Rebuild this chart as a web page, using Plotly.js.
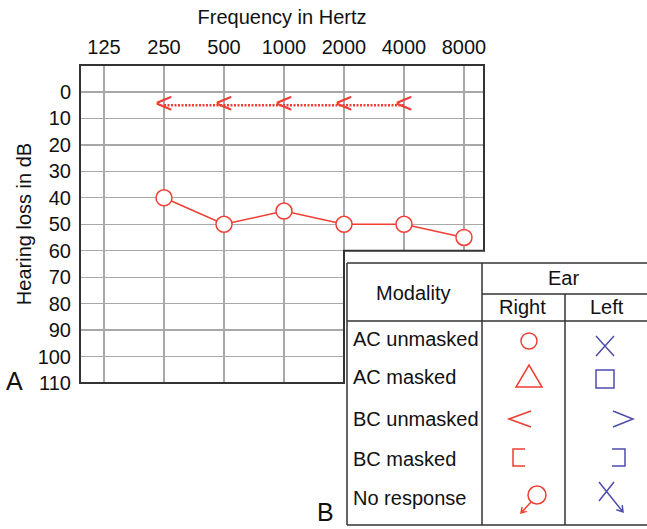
<!DOCTYPE html>
<html><head><meta charset="utf-8">
<script src="https://cdn.plot.ly/plotly-3.0.1.min.js"></script>
<style>html,body{margin:0;padding:0;background:#fff}</style>
</head><body><div id="chart" style="width:647px;height:529px"></div>
<script>
// ---- data ----
const frequencies = [125, 250, 500, 1000, 2000, 4000, 8000];
const freqLabels = ['125', '250', '500', '1000', '2000', '4000', '8000'];
const dbTicks = [0, 10, 20, 30, 40, 50, 60, 70, 80, 90, 100, 110];
const acRightFreq = [250, 500, 1000, 2000, 4000, 8000];
const acRightDb = [40, 50, 45, 50, 50, 55];
const bcRightFreq = [250, 500, 1000, 2000, 4000];
const bcRightDb = [5, 5, 5, 5, 5];
const modalities = ['AC unmasked', 'AC masked', 'BC unmasked', 'BC masked', 'No response'];
const earLabels = ['Right', 'Left'];

// ---- styles / layout constants ----
const RED = '#ef3e33', BLUE = '#4d4dab', DARK = '#333333', GRID = '#a8a8a8';
const FONT = 'Liberation Sans, Arial, sans-serif';
const X_MIN = -0.4, X_MAX = 6.3333, Y_TOP = -10.2, Y_BOT = 110;
const L = 80, R = 484, T = 65, B = 383;
const X = px => (px - L) / (R - L);
const Y = py => (B - py) / (B - T);
const idx = f => frequencies.indexOf(f);

function pth(cmds) {
  return cmds.map(c => c[0] + X(c[1]).toFixed(5) + ',' + Y(c[2]).toFixed(5)).join(' ');
}
function head(tx, ty, fx, fy, len, ang) {
  len = len || 7; ang = (ang || 32) * Math.PI / 180;
  const dx = fx - tx, dy = fy - ty, d = Math.hypot(dx, dy);
  const ux = dx / d, uy = dy / d;
  const r = a => [tx + len * (ux * Math.cos(a) - uy * Math.sin(a)), ty + len * (ux * Math.sin(a) + uy * Math.cos(a))];
  const e1 = r(ang), e2 = r(-ang);
  return [['M', e1[0], e1[1]], ['L', tx, ty], ['L', e2[0], e2[1]]];
}
function lineShape(path, color, w) {
  return {type: 'path', xref: 'paper', yref: 'paper', path: path, layer: 'above',
          line: {color: color, width: w}, fillcolor: 'rgba(0,0,0,0)'};
}

// ---- traces ----
const traces = [
  {
    x: bcRightFreq.map(idx), y: bcRightDb, mode: 'lines+text',
    text: bcRightFreq.map(() => '<'), textposition: 'middle center',
    textfont: {family: FONT, size: 30, color: RED},
    line: {color: RED, width: 2.5, dash: '2px,1.5px'},
    cliponaxis: false, hoverinfo: 'skip'
  },
  {
    x: acRightFreq.map(idx), y: acRightDb, mode: 'lines+markers',
    line: {color: RED, width: 1.5},
    marker: {symbol: 'circle', size: 16, color: '#ffffff', line: {color: RED, width: 1.5}},
    cliponaxis: false, hoverinfo: 'skip'
  }
];

// ---- frame with notch ----
const xn = (idx(2000) - X_MIN) / (X_MAX - X_MIN);
const yn = (Y_BOT - 60) / (Y_BOT - Y_TOP);
const shapes = [
  {type: 'rect', xref: 'paper', yref: 'paper', x0: xn, x1: 1.02, y0: -0.02, y1: yn,
   fillcolor: '#ffffff', line: {width: 0}, layer: 'above'},
  {type: 'path', xref: 'paper', yref: 'paper', layer: 'above',
   path: `M0,1 L1,1 L1,${yn} L${xn},${yn} L${xn},0 L0,0 Z`,
   line: {color: DARK, width: 2}, fillcolor: 'rgba(0,0,0,0)'}
];

// ---- legend table ----
const tl = 347, tt = 263, tb = 525, tr = 650, c1 = 482, c2 = 565, h1 = 294, h2 = 321;
[
  [['M', tl, tt], ['L', tr, tt]],
  [['M', tl, tt], ['L', tl, tb]],
  [['M', tl, tb], ['L', tr, tb]],
  [['M', c1, tt], ['L', c1, tb]],
  [['M', c2, h1], ['L', c2, tb]],
  [['M', c1, h1], ['L', tr, h1]],
  [['M', tl, h2], ['L', tr, h2]]
].forEach(p => shapes.push(lineShape(pth(p), DARK, 1.5)));

// legend symbols (right ear red, left ear blue)
shapes.push({type: 'circle', xref: 'paper', yref: 'paper', layer: 'above',
  x0: X(521), x1: X(537), y0: Y(349), y1: Y(333), line: {color: RED, width: 1.5}});
shapes.push(lineShape(pth([['M', 529, 365], ['L', 542, 387], ['L', 516, 387]]) + ' Z', RED, 1.5));
shapes.push(lineShape(pth([['M', 531, 411], ['L', 509, 419], ['L', 531, 427]]), RED, 1.5));
shapes.push(lineShape(pth([['M', 525, 449], ['L', 513, 449], ['L', 513, 466], ['L', 525, 466]]), RED, 1.5));
shapes.push({type: 'circle', xref: 'paper', yref: 'paper', layer: 'above',
  x0: X(528), x1: X(546), y0: Y(504), y1: Y(486), line: {color: RED, width: 1.5}});
shapes.push(lineShape(pth([['M', 531, 502], ['L', 521, 513]].concat(head(521, 513, 531, 502, 6))), RED, 1.5));

shapes.push(lineShape(pth([['M', 596, 336], ['L', 614, 356], ['M', 614, 336], ['L', 596, 356]]), BLUE, 1.5));
shapes.push({type: 'rect', xref: 'paper', yref: 'paper', layer: 'above',
  x0: X(596), x1: X(614), y0: Y(388), y1: Y(370), line: {color: BLUE, width: 1.5}});
shapes.push(lineShape(pth([['M', 613, 411], ['L', 633, 419], ['L', 613, 427]]), BLUE, 1.5));
shapes.push(lineShape(pth([['M', 612, 449], ['L', 625, 449], ['L', 625, 466], ['L', 612, 466]]), BLUE, 1.5));
shapes.push(lineShape(pth([['M', 599, 482], ['L', 623, 512], ['M', 614, 482], ['L', 599, 501]].concat(head(623, 512, 599, 482, 7))), BLUE, 1.5));

// ---- text annotations ----
const ann = (text, px, py, opts) => Object.assign({
  text: text, xref: 'paper', yref: 'paper', x: X(px), y: Y(py), showarrow: false,
  xanchor: 'center', yanchor: 'middle', font: {family: FONT, size: 20, color: '#111'}
}, opts || {});
const rowY = [339, 377, 419, 459, 498];
const annotations = [
  ann('Modality', 413, 293),
  ann('Ear', 563, 278),
  ann(earLabels[0], 522, 307),
  ann(earLabels[1], 607, 307),
  ann('A', 14, 381, {font: {family: FONT, size: 25, color: '#111'}}),
  ann('B', 325, 512, {font: {family: FONT, size: 25, color: '#111'}})
].concat(modalities.map((m, i) => ann(m, 351, rowY[i], {xanchor: 'left'})));

const layout = {
  width: 647, height: 529,
  margin: {l: L, r: 647 - R, t: T, b: 529 - B, pad: 0},
  paper_bgcolor: '#ffffff', plot_bgcolor: '#ffffff',
  showlegend: false,
  font: {family: FONT, size: 20, color: '#111'},
  xaxis: {
    range: [X_MIN, X_MAX], tickmode: 'array', tickvals: frequencies.map(idx), ticktext: freqLabels,
    side: 'top', showgrid: true, gridcolor: GRID, gridwidth: 1.2, zeroline: false, showline: false,
    ticks: '', ticklabelstandoff: 6, automargin: false, fixedrange: true,
    title: {text: 'Frequency in Hertz', standoff: 6, font: {family: FONT, size: 20, color: '#111'}}
  },
  yaxis: {
    range: [Y_BOT, Y_TOP], tickmode: 'array', tickvals: dbTicks, ticktext: dbTicks.map(String),
    showgrid: true, gridcolor: GRID, gridwidth: 1.2, zeroline: false, showline: false,
    ticks: '', ticklabelstandoff: 8, automargin: false, fixedrange: true,
    title: {text: 'Hearing loss in dB', standoff: 0, font: {family: FONT, size: 20, color: '#111'}}
  },
  shapes: shapes,
  annotations: annotations
};

Plotly.newPlot('chart', traces, layout, {staticPlot: true, displayModeBar: false});
</script>
</body></html>
